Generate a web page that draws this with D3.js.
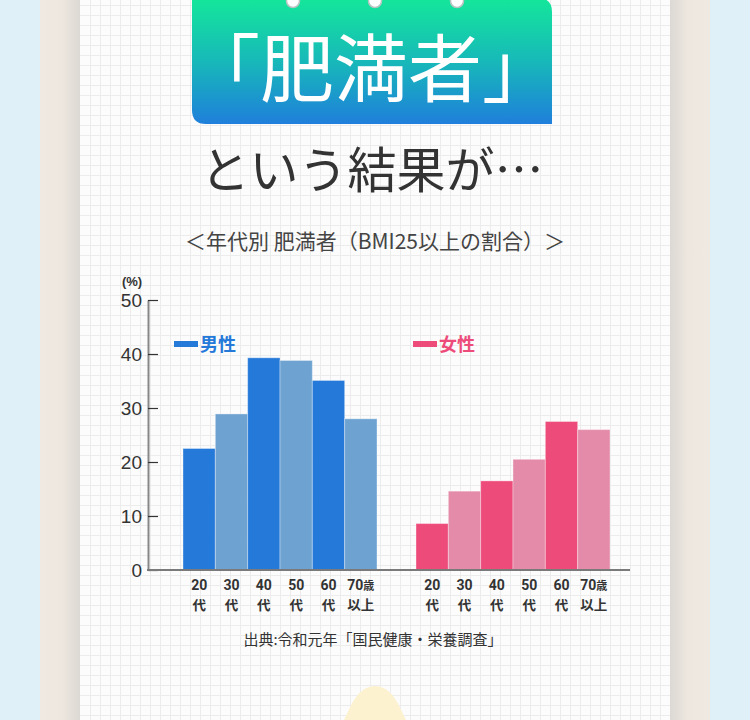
<!DOCTYPE html>
<html><head><meta charset="utf-8">
<script src="https://cdn.jsdelivr.net/npm/d3@7"></script>
<style>
html,body{margin:0;padding:0;background:#dff0f9;}
svg{display:block;}
</style></head>
<body>
<script>
const ages = ["20代","30代","40代","50代","60代","70歳以上"];
const ageTop = ["20","30","40","50","60","70"];
const ageBottom = ["代","代","代","代","代","以上"];
const genders = ["男性","女性"];
const maleValues = [22.5, 28.9, 39.3, 38.8, 35.1, 28.0];
const femaleValues = [8.6, 14.6, 16.5, 20.5, 27.5, 26.0];
const yTicks = [0, 10, 20, 30, 40, 50];
const titleText = "「肥満者」";
const leadText = "という結果が…";
const subtitleText = "＜年代別 肥満者（BMI25以上の割合）＞";
const sourceText = "出典:令和元年「国民健康・栄養調査」";

const W = 750, H = 720;
const FONT = "'Noto Sans CJK JP','Noto Sans',sans-serif";
const svg = d3.select("body").append("svg").attr("width", W).attr("height", H);
const defs = svg.append("defs");

// background strips
svg.append("rect").attr("x",0).attr("y",0).attr("width",W).attr("height",H).attr("fill","#dff0f9");
const gl = defs.append("linearGradient").attr("id","shadeL").attr("x1","0").attr("x2","1");
gl.append("stop").attr("offset","0").attr("stop-color","#efe9e1");
gl.append("stop").attr("offset","0.55").attr("stop-color","#ede7df");
gl.append("stop").attr("offset","1").attr("stop-color","#dcd8d3");
const gr = defs.append("linearGradient").attr("id","shadeR").attr("x1","0").attr("x2","1");
gr.append("stop").attr("offset","0").attr("stop-color","#dcd8d3");
gr.append("stop").attr("offset","0.45").attr("stop-color","#ede7df");
gr.append("stop").attr("offset","1").attr("stop-color","#efe9e1");
svg.append("rect").attr("x",40).attr("y",0).attr("width",40).attr("height",H).attr("fill","url(#shadeL)");
svg.append("rect").attr("x",670).attr("y",0).attr("width",40).attr("height",H).attr("fill","url(#shadeR)");

// paper with grid
svg.append("rect").attr("x",80).attr("y",0).attr("width",590).attr("height",H).attr("fill","#fcfcfc");
const grid = svg.append("g").attr("stroke","#ececec").attr("stroke-width",1);
grid.selectAll("line.v").data(d3.range(90, 670, 10)).join("line")
  .attr("x1",d=>d+0.5).attr("x2",d=>d+0.5).attr("y1",0).attr("y2",H);
grid.selectAll("line.h").data(d3.range(5, H, 10)).join("line")
  .attr("y1",d=>d+0.5).attr("y2",d=>d+0.5).attr("x1",80).attr("x2",670);

// bottom yellow shape
svg.append("path")
  .attr("d","M344,720 C352,703 358,687 375,686 C392,687 398,703 406,720 Z")
  .attr("fill","#fdf2d0");

// title box
const tg = defs.append("linearGradient").attr("id","titleGrad").attr("x1","0").attr("x2","0").attr("y1","0").attr("y2","1");
tg.append("stop").attr("offset","0").attr("stop-color","#14e79a");
tg.append("stop").attr("offset","0.5").attr("stop-color","#17b9b9");
tg.append("stop").attr("offset","1").attr("stop-color","#1f7fdb");
const bx0 = 192, bx1 = 552, by1 = 124, r = 14;
svg.append("path")
  .attr("d",`M${bx0},-2 L${bx1-r},-2 Q${bx1},-2 ${bx1},${r-2} L${bx1},${by1} L${bx0+r},${by1} Q${bx0},${by1} ${bx0},${by1-r} Z`)
  .attr("fill","url(#titleGrad)");
[293, 375, 457].forEach(cx => {
  svg.append("circle").attr("cx",cx).attr("cy",1).attr("r",6.5).attr("fill","#ffffff").attr("stroke","#b9c2c0").attr("stroke-width",1.5);
});
svg.append("text").attr("x",371).attr("y",96).attr("text-anchor","middle")
  .attr("font-family",FONT).attr("font-weight",400).attr("font-size",74).attr("fill","#ffffff").text(titleText);
svg.append("text").attr("x",372).attr("y",188).attr("text-anchor","middle")
  .attr("font-family",FONT).attr("font-weight",400).attr("font-size",49).attr("fill","#333333").text(leadText);
svg.append("text").attr("x",375).attr("y",249).attr("text-anchor","middle")
  .attr("font-family",FONT).attr("font-size",21).attr("fill","#444444").text(subtitleText);

// chart
const yBase = 570, yTop = 300, xAxis = 148;
const y = d3.scaleLinear().domain([0,50]).range([yBase, yTop]);
const xg = d3.scaleBand().domain(genders).range([183, 610]).paddingInner(39/233).paddingOuter(0);
const xa = d3.scaleBand().domain(ages).range([0, xg.bandwidth()]).padding(0);

const colors = {
  "男性": ["#2479d9", "#6ea2d1"],
  "女性": ["#ed4b7a", "#e38ba8"]
};
const legendColor = {"男性":"#2479d9","女性":"#ed4b7a"};
const series = [{g:"男性", vals: maleValues}, {g:"女性", vals: femaleValues}];

series.forEach(s => {
  const g = svg.append("g").attr("transform",`translate(${xg(s.g)},0)`);
  g.selectAll("rect").data(s.vals).join("rect")
    .attr("x",(d,i)=>xa(ages[i]))
    .attr("y",d=>y(d))
    .attr("width",xa.bandwidth())
    .attr("height",d=>yBase - y(d))
    .attr("fill",(d,i)=>colors[s.g][i%2])
    .attr("stroke","rgba(255,255,255,0.35)").attr("stroke-width",1);
  // x labels
  const lab = g.append("g").attr("font-weight",700).attr("fill","#333333").attr("text-anchor","middle");
  ages.forEach((a,i) => {
    const cx = xa(a) + xa.bandwidth()/2;
    const t1 = lab.append("text").attr("x",cx).attr("y",590).attr("font-size",14)
      .attr("font-family","Roboto,'Noto Sans',sans-serif");
    t1.append("tspan").text(ageTop[i]);
    if (i === 5) t1.append("tspan").attr("font-size",11).attr("font-family",FONT).text("歳");
    lab.append("text").attr("x",cx).attr("y",610).attr("font-size",13.5).attr("font-family",FONT).text(ageBottom[i]);
  });
  // legend
  const lx = s.g === "男性" ? 174 : 413;
  svg.append("rect").attr("x",lx).attr("y",341).attr("width",24).attr("height",6).attr("fill",legendColor[s.g]);
  svg.append("text").attr("x",lx+26).attr("y",351).attr("font-family",FONT).attr("font-weight",700)
    .attr("font-size",18).attr("fill",legendColor[s.g]).text(s.g);
});

// y axis
const yAxis = d3.axisLeft(y).tickValues(yTicks).tickSizeInner(-10).tickSizeOuter(0).tickPadding(6);
const ya = svg.append("g").attr("transform",`translate(${xAxis},0)`).call(yAxis);
ya.select(".domain").attr("stroke","#888888").attr("stroke-width",2);
ya.selectAll(".tick line").attr("stroke","#333333").attr("stroke-width",1.2);
ya.selectAll(".tick text").attr("font-family","'Liberation Sans',Arial,sans-serif").attr("font-size",19).attr("fill","#333333");
svg.append("line").attr("x1",xAxis-1).attr("x2",630).attr("y1",yBase).attr("y2",yBase).attr("stroke","#7a7a7a").attr("stroke-width",2);
svg.append("text").attr("x",132).attr("y",286).attr("text-anchor","middle").attr("font-family","'Liberation Sans',Arial,sans-serif")
  .attr("font-weight",700).attr("font-size",13).attr("fill","#333333").text("(%)");

// source
svg.append("text").attr("x",373).attr("y",645).attr("text-anchor","middle").attr("font-family",FONT)
  .attr("font-size",15).attr("fill","#333333").text(sourceText);
</script>
</body></html>
